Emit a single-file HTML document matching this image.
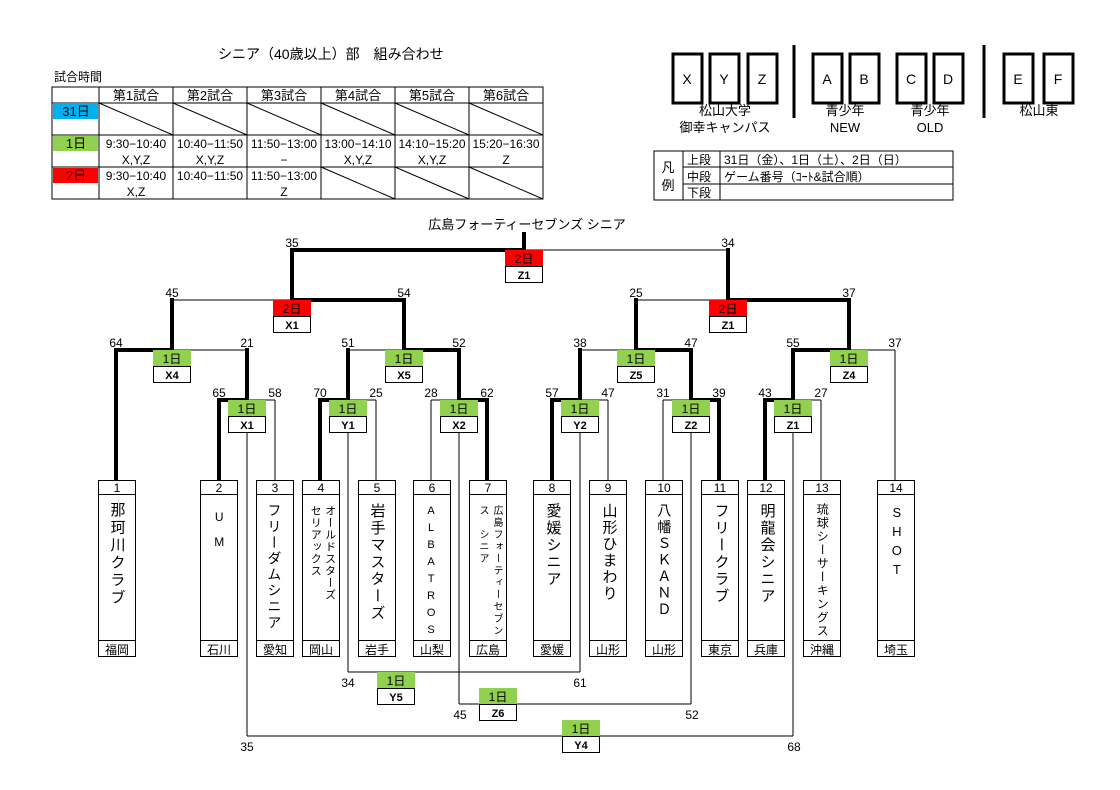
<!DOCTYPE html>
<html><head><meta charset="utf-8">
<style>
body{margin:0;background:#fff;}
#c{position:relative;width:1120px;height:790px;overflow:hidden;font-family:"Liberation Sans","Noto Sans CJK JP",sans-serif;color:#000;}
.a{position:absolute;}
.vt{position:absolute;writing-mode:vertical-rl;text-orientation:upright;white-space:nowrap;line-height:1.1;}
</style></head><body><div id="c">

<div class="a" style="left:218px;top:44px;font-size:14px;">シニア（40歳以上）部　組み合わせ</div>
<div class="a" style="left:54px;top:68px;font-size:12px;">試合時間</div>

<svg class="a" style="left:0;top:0" width="1120" height="790">
<g stroke="#000" stroke-width="1" fill="none">
<rect x="52" y="87" width="491" height="112"/>
<rect x="53" y="104" width="45" height="15" fill="#00b0f0" stroke="none"/>
<rect x="53" y="136" width="45" height="15" fill="#92d050" stroke="none"/>
<rect x="53" y="168" width="45" height="15" fill="#ff0000" stroke="none"/>
<line x1="52" y1="103" x2="543" y2="103"/>
<line x1="52" y1="135" x2="543" y2="135"/>
<line x1="52" y1="167" x2="543" y2="167"/>
<line x1="99" y1="87" x2="99" y2="199"/>
<line x1="173" y1="87" x2="173" y2="199"/>
<line x1="247" y1="87" x2="247" y2="199"/>
<line x1="321" y1="87" x2="321" y2="199"/>
<line x1="395" y1="87" x2="395" y2="199"/>
<line x1="469" y1="87" x2="469" y2="199"/>
<line x1="99" y1="103" x2="173" y2="135"/>
<line x1="173" y1="103" x2="247" y2="135"/>
<line x1="247" y1="103" x2="321" y2="135"/>
<line x1="321" y1="103" x2="395" y2="135"/>
<line x1="395" y1="103" x2="469" y2="135"/>
<line x1="469" y1="103" x2="543" y2="135"/>
<line x1="321" y1="167" x2="395" y2="199"/>
<line x1="395" y1="167" x2="469" y2="199"/>
<line x1="469" y1="167" x2="543" y2="199"/>
</g>
<g font-size="13" text-anchor="middle" font-family="Liberation Sans,Noto Sans CJK JP,sans-serif">
<text x="136" y="100">第1試合</text><text x="210" y="100">第2試合</text><text x="284" y="100">第3試合</text>
<text x="358" y="100">第4試合</text><text x="432" y="100">第5試合</text><text x="506" y="100">第6試合</text>
<text x="76" y="116">31日</text><text x="76" y="148">1日</text><text x="76" y="180">2日</text>
<g font-size="12">
<text x="136" y="148">9:30−10:40</text><text x="136" y="164">X,Y,Z</text>
<text x="210" y="148">10:40−11:50</text><text x="210" y="164">X,Y,Z</text>
<text x="284" y="148">11:50−13:00</text><text x="284" y="164">−</text>
<text x="358" y="148">13:00−14:10</text><text x="358" y="164">X,Y,Z</text>
<text x="432" y="148">14:10−15:20</text><text x="432" y="164">X,Y,Z</text>
<text x="506" y="148">15:20−16:30</text><text x="506" y="164">Z</text>
<text x="136" y="180">9:30−10:40</text><text x="136" y="196">X,Z</text>
<text x="210" y="180">10:40−11:50</text>
<text x="284" y="180">11:50−13:00</text><text x="284" y="196">Z</text>
</g>
</g>

<g stroke="#000" stroke-width="3" fill="#fff">
<rect x="673" y="54" width="29" height="49"/><rect x="710" y="54" width="29" height="49"/><rect x="748" y="54" width="29" height="49"/>
<rect x="813" y="54" width="29" height="49"/><rect x="850" y="54" width="29" height="49"/>
<rect x="897" y="54" width="29" height="49"/><rect x="934" y="54" width="29" height="49"/>
<rect x="1004" y="54" width="29" height="49"/><rect x="1044" y="54" width="29" height="49"/>
<line x1="794" y1="45" x2="794" y2="118"/><line x1="984" y1="45" x2="984" y2="118"/>
</g>
<g font-size="14" text-anchor="middle" font-family="Liberation Sans,Noto Sans CJK JP,sans-serif">
<text x="687" y="84">X</text><text x="724" y="84">Y</text><text x="762" y="84">Z</text>
<text x="827" y="84">A</text><text x="864" y="84">B</text><text x="911" y="84">C</text><text x="948" y="84">D</text>
<text x="1018" y="84">E</text><text x="1058" y="84">F</text>
<g font-size="13"><text x="725" y="115">松山大学</text><text x="725" y="132">御幸キャンパス</text>
<text x="845" y="115">青少年</text><text x="845" y="132">NEW</text>
<text x="930" y="115">青少年</text><text x="930" y="132">OLD</text>
<text x="1039" y="115">松山東</text></g>
</g>
<g stroke="#000" stroke-width="1" fill="none">
<rect x="654" y="151" width="299" height="49"/>
<line x1="683" y1="151" x2="683" y2="200"/><line x1="720" y1="151" x2="720" y2="200"/>
<line x1="683" y1="167" x2="953" y2="167"/><line x1="683" y1="184" x2="953" y2="184"/>
</g>
<g font-size="12" font-family="Liberation Sans,Noto Sans CJK JP,sans-serif">
<text x="668" y="172" text-anchor="middle" font-size="13">凡</text><text x="668" y="190" text-anchor="middle" font-size="13">例</text>
<text x="687" y="164">上段</text><text x="687" y="181">中段</text><text x="687" y="197">下段</text>
<text x="724" y="164">31日（金）、1日（土）、2日（日）</text>
<text x="724" y="181">ゲーム番号（ｺｰﾄ&amp;試合順）</text>
</g>

<g stroke="#000" stroke-width="1" fill="none">
<line x1="247" y1="432" x2="247" y2="736"/><line x1="348" y1="432" x2="348" y2="672"/>
<line x1="459" y1="432" x2="459" y2="704"/><line x1="580" y1="432" x2="580" y2="672"/>
<line x1="691" y1="432" x2="691" y2="704"/><line x1="793" y1="432" x2="793" y2="736"/>
<line x1="348" y1="672" x2="580" y2="672"/><line x1="459" y1="704" x2="691" y2="704"/><line x1="247" y1="736" x2="793" y2="736"/>
<line x1="247" y1="400" x2="275" y2="400"/><line x1="275" y1="400" x2="275" y2="481"/>
<line x1="348" y1="400" x2="376" y2="400"/><line x1="376" y1="400" x2="376" y2="481"/>
<line x1="431" y1="400" x2="459" y2="400"/><line x1="431" y1="400" x2="431" y2="481"/>
<line x1="580" y1="400" x2="608" y2="400"/><line x1="608" y1="400" x2="608" y2="481"/>
<line x1="663" y1="400" x2="691" y2="400"/><line x1="663" y1="400" x2="663" y2="481"/>
<line x1="793" y1="400" x2="821" y2="400"/><line x1="821" y1="400" x2="821" y2="481"/>
<line x1="172" y1="350" x2="247" y2="350"/><line x1="348" y1="350" x2="404" y2="350"/>
<line x1="580" y1="350" x2="636" y2="350"/><line x1="849" y1="350" x2="895" y2="350"/><line x1="895" y1="350" x2="895" y2="481"/>
<line x1="172" y1="300" x2="292" y2="300"/><line x1="636" y1="300" x2="728" y2="300"/>
<line x1="524" y1="250" x2="728" y2="250"/>
</g>
<g stroke="#000" stroke-width="4" fill="none" stroke-linecap="square">
<polyline points="219,481 219,400 247,400 247,350"/>
<polyline points="320,481 320,400 348,400 348,350"/>
<polyline points="487,481 487,400 459,400 459,350"/>
<polyline points="552,481 552,400 580,400 580,350"/>
<polyline points="719,481 719,400 691,400 691,350"/>
<polyline points="765,481 765,400 793,400 793,350"/>
<polyline points="116,481 116,350 172,350 172,300"/>
<polyline points="459,350 404,350 404,300"/>
<polyline points="691,350 636,350 636,300"/>
<polyline points="793,350 849,350 849,300"/>
<polyline points="404,300 292,300 292,250"/>
<polyline points="849,300 728,300 728,250"/>
<polyline points="292,250 524,250 524,234"/>
</g>

<g font-family="Liberation Sans,Noto Sans CJK JP,sans-serif" font-size="12" text-anchor="middle">
<g stroke="#000" stroke-width="1">
<rect x="228" y="400" width="38" height="16" fill="#92d050" stroke="none"/><rect x="228.5" y="416.5" width="37" height="16" fill="#fff"/>
<rect x="329" y="400" width="38" height="16" fill="#92d050" stroke="none"/><rect x="329.5" y="416.5" width="37" height="16" fill="#fff"/>
<rect x="440" y="400" width="38" height="16" fill="#92d050" stroke="none"/><rect x="440.5" y="416.5" width="37" height="16" fill="#fff"/>
<rect x="561" y="400" width="38" height="16" fill="#92d050" stroke="none"/><rect x="561.5" y="416.5" width="37" height="16" fill="#fff"/>
<rect x="672" y="400" width="38" height="16" fill="#92d050" stroke="none"/><rect x="672.5" y="416.5" width="37" height="16" fill="#fff"/>
<rect x="774" y="400" width="38" height="16" fill="#92d050" stroke="none"/><rect x="774.5" y="416.5" width="37" height="16" fill="#fff"/>
<rect x="153" y="350" width="38" height="16" fill="#92d050" stroke="none"/><rect x="153.5" y="366.5" width="37" height="16" fill="#fff"/>
<rect x="385" y="350" width="38" height="16" fill="#92d050" stroke="none"/><rect x="385.5" y="366.5" width="37" height="16" fill="#fff"/>
<rect x="617" y="350" width="38" height="16" fill="#92d050" stroke="none"/><rect x="617.5" y="366.5" width="37" height="16" fill="#fff"/>
<rect x="830" y="350" width="38" height="16" fill="#92d050" stroke="none"/><rect x="830.5" y="366.5" width="37" height="16" fill="#fff"/>
<rect x="273" y="300" width="38" height="16" fill="#ff0000" stroke="none"/><rect x="273.5" y="316.5" width="37" height="16" fill="#fff"/>
<rect x="709" y="300" width="38" height="16" fill="#ff0000" stroke="none"/><rect x="709.5" y="316.5" width="37" height="16" fill="#fff"/>
<rect x="505" y="250" width="38" height="16" fill="#ff0000" stroke="none"/><rect x="505.5" y="266.5" width="37" height="16" fill="#fff"/>
<rect x="377" y="672" width="38" height="16" fill="#92d050" stroke="none"/><rect x="377.5" y="688.5" width="37" height="16" fill="#fff"/>
<rect x="479" y="688" width="38" height="16" fill="#92d050" stroke="none"/><rect x="479.5" y="704.5" width="37" height="16" fill="#fff"/>
<rect x="562" y="720" width="38" height="16" fill="#92d050" stroke="none"/><rect x="562.5" y="736.5" width="37" height="16" fill="#fff"/>
</g>
<g>
<text x="247" y="413">1日</text><text x="348" y="413">1日</text><text x="459" y="413">1日</text><text x="580" y="413">1日</text><text x="691" y="413">1日</text><text x="793" y="413">1日</text>
<text x="172" y="363">1日</text><text x="404" y="363">1日</text><text x="636" y="363">1日</text><text x="849" y="363">1日</text>
<text x="292" y="313">2日</text><text x="728" y="313">2日</text><text x="524" y="263">2日</text>
<text x="396" y="685">1日</text><text x="498" y="701">1日</text><text x="581" y="733">1日</text>
</g>
<g font-weight="bold" font-size="11">
<text x="247" y="429">X1</text><text x="348" y="429">Y1</text><text x="459" y="429">X2</text><text x="580" y="429">Y2</text><text x="691" y="429">Z2</text><text x="793" y="429">Z1</text>
<text x="172" y="379">X4</text><text x="404" y="379">X5</text><text x="636" y="379">Z5</text><text x="849" y="379">Z4</text>
<text x="292" y="329">X1</text><text x="728" y="329">Z1</text><text x="524" y="279">Z1</text>
<text x="396" y="701">Y5</text><text x="498" y="717">Z6</text><text x="581" y="749">Y4</text>
</g>
<g font-size="12">
<text x="219" y="397">65</text><text x="275" y="397">58</text><text x="320" y="397">70</text><text x="376" y="397">25</text>
<text x="431" y="397">28</text><text x="487" y="397">62</text><text x="552" y="397">57</text><text x="608" y="397">47</text>
<text x="663" y="397">31</text><text x="719" y="397">39</text><text x="765" y="397">43</text><text x="821" y="397">27</text>
<text x="116" y="347">64</text><text x="247" y="347">21</text><text x="348" y="347">51</text><text x="459" y="347">52</text>
<text x="580" y="347">38</text><text x="691" y="347">47</text><text x="793" y="347">55</text><text x="895" y="347">37</text>
<text x="172" y="297">45</text><text x="404" y="297">54</text><text x="636" y="297">25</text><text x="849" y="297">37</text>
<text x="292" y="247">35</text><text x="728" y="247">34</text>
<text x="348" y="687">34</text><text x="580" y="687">61</text>
<text x="460" y="719">45</text><text x="692" y="719">52</text>
<text x="247" y="751">35</text><text x="794" y="751">68</text>
</g>
<text x="527" y="229" font-size="13">広島フォーティーセブンズ シニア</text>
</g>

<g stroke="#000" stroke-width="1" fill="#fff">
<rect x="98.5" y="480.5" width="37" height="176"/><line x1="98" y1="494.5" x2="136" y2="494.5"/><line x1="98" y1="640.5" x2="136" y2="640.5"/>
<rect x="200.5" y="480.5" width="37" height="176"/><line x1="200" y1="494.5" x2="238" y2="494.5"/><line x1="200" y1="640.5" x2="238" y2="640.5"/>
<rect x="256.5" y="480.5" width="37" height="176"/><line x1="256" y1="494.5" x2="294" y2="494.5"/><line x1="256" y1="640.5" x2="294" y2="640.5"/>
<rect x="302.5" y="480.5" width="37" height="176"/><line x1="302" y1="494.5" x2="340" y2="494.5"/><line x1="302" y1="640.5" x2="340" y2="640.5"/>
<rect x="358.5" y="480.5" width="37" height="176"/><line x1="358" y1="494.5" x2="396" y2="494.5"/><line x1="358" y1="640.5" x2="396" y2="640.5"/>
<rect x="413.5" y="480.5" width="37" height="176"/><line x1="413" y1="494.5" x2="451" y2="494.5"/><line x1="413" y1="640.5" x2="451" y2="640.5"/>
<rect x="469.5" y="480.5" width="37" height="176"/><line x1="469" y1="494.5" x2="507" y2="494.5"/><line x1="469" y1="640.5" x2="507" y2="640.5"/>
<rect x="533.5" y="480.5" width="37" height="176"/><line x1="533" y1="494.5" x2="571" y2="494.5"/><line x1="533" y1="640.5" x2="571" y2="640.5"/>
<rect x="589.5" y="480.5" width="37" height="176"/><line x1="589" y1="494.5" x2="627" y2="494.5"/><line x1="589" y1="640.5" x2="627" y2="640.5"/>
<rect x="645.5" y="480.5" width="37" height="176"/><line x1="645" y1="494.5" x2="683" y2="494.5"/><line x1="645" y1="640.5" x2="683" y2="640.5"/>
<rect x="701.5" y="480.5" width="37" height="176"/><line x1="701" y1="494.5" x2="739" y2="494.5"/><line x1="701" y1="640.5" x2="739" y2="640.5"/>
<rect x="747.5" y="480.5" width="37" height="176"/><line x1="747" y1="494.5" x2="785" y2="494.5"/><line x1="747" y1="640.5" x2="785" y2="640.5"/>
<rect x="803.5" y="480.5" width="37" height="176"/><line x1="803" y1="494.5" x2="841" y2="494.5"/><line x1="803" y1="640.5" x2="841" y2="640.5"/>
<rect x="877.5" y="480.5" width="37" height="176"/><line x1="877" y1="494.5" x2="915" y2="494.5"/><line x1="877" y1="640.5" x2="915" y2="640.5"/>
</g>
<g font-family="Liberation Sans,Noto Sans CJK JP,sans-serif" font-size="12" text-anchor="middle">
<text x="117" y="492">1</text><text x="219" y="492">2</text><text x="275" y="492">3</text><text x="321" y="492">4</text>
<text x="377" y="492">5</text><text x="432" y="492">6</text><text x="488" y="492">7</text><text x="552" y="492">8</text>
<text x="608" y="492">9</text><text x="664" y="492">10</text><text x="720" y="492">11</text><text x="766" y="492">12</text>
<text x="822" y="492">13</text><text x="896" y="492">14</text>
<text x="117" y="654">福岡</text><text x="219" y="654">石川</text><text x="275" y="654">愛知</text><text x="321" y="654">岡山</text>
<text x="377" y="654">岩手</text><text x="432" y="654">山梨</text><text x="488" y="654">広島</text><text x="552" y="654">愛媛</text>
<text x="608" y="654">山形</text><text x="664" y="654">山形</text><text x="720" y="654">東京</text><text x="766" y="654">兵庫</text>
<text x="822" y="654">沖縄</text><text x="896" y="654">埼玉</text>
</g>
</svg>

<div class="vt" style="left:108px;top:502px;font-size:15px;letter-spacing:2.5px;">那珂川クラブ</div>
<div class="vt" style="left:212px;top:510px;font-size:12px;letter-spacing:11px;">UM</div>
<div class="vt" style="left:266px;top:503px;font-size:14px;letter-spacing:2px;">フリーダムシニア</div>
<div class="vt" style="left:308px;top:505px;font-size:11px;letter-spacing:1px;line-height:1.3;">オールドスターズ<br>セリアックス</div>
<div class="vt" style="left:368px;top:503px;font-size:15px;letter-spacing:2px;">岩手マスターズ</div>
<div class="vt" style="left:425px;top:505px;font-size:11px;letter-spacing:5px;">ALBATROS</div>
<div class="vt" style="left:475px;top:505px;font-size:10px;letter-spacing:2px;line-height:1.4;">広島フォーティーセブン<br>ス　シニア</div>
<div class="vt" style="left:544px;top:503px;font-size:15px;letter-spacing:2px;">愛媛シニア</div>
<div class="vt" style="left:600px;top:503px;font-size:15px;letter-spacing:1.5px;">山形ひまわり</div>
<div class="vt" style="left:656px;top:503px;font-size:14px;letter-spacing:2.5px;">八幡ＳＫＡＮＤ</div>
<div class="vt" style="left:712px;top:503px;font-size:15px;letter-spacing:2px;">フリークラブ</div>
<div class="vt" style="left:758px;top:503px;font-size:15px;letter-spacing:2px;">明龍会シニア</div>
<div class="vt" style="left:815px;top:503px;font-size:12px;letter-spacing:1.5px;">琉球シーサーキングス</div>
<div class="vt" style="left:889px;top:505px;font-size:13px;letter-spacing:4px;">SHOT</div>

</div></body></html>
